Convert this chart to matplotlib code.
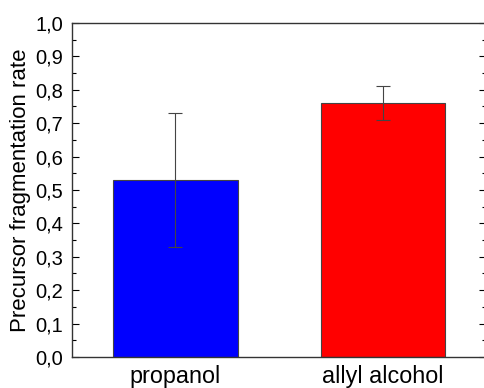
import matplotlib
matplotlib.use("Agg")
import matplotlib.pyplot as plt
from matplotlib.ticker import FuncFormatter, MultipleLocator

plt.rcParams['font.family'] = ['Liberation Sans', 'DejaVu Sans']

# data
labels = ["propanol", "allyl alcohol"]
rates = [0.53, 0.76]
errors = [0.20, 0.05]
colors = ["#0000ff", "#ff0000"]

fig = plt.figure(figsize=(4.85, 3.88), dpi=100)
ax = fig.add_axes([0.148, 0.080, 0.855, 0.861])

pos = [1, 2]
ax.bar(pos, rates, width=0.6, color=colors, edgecolor="#444444", linewidth=0.8,
       yerr=errors, error_kw=dict(ecolor="#444444", elinewidth=0.8, capsize=5, capthick=0.8))

ax.set_xlim(0.5, 2.5)
ax.set_ylim(0, 1.0)
ax.set_xticks(pos)
ax.set_xticklabels(labels)
ax.yaxis.set_major_locator(MultipleLocator(0.1))
ax.yaxis.set_minor_locator(MultipleLocator(0.05))
ax.yaxis.set_major_formatter(FuncFormatter(lambda v, p: f"{v:.1f}".replace(".", ",")))

ax.tick_params(axis="y", which="both", direction="in", left=True, right=True, labelsize=14.5, pad=6)
ax.tick_params(axis="y", which="major", length=5, width=0.8)
ax.tick_params(axis="y", which="minor", length=3, width=0.8)
ax.tick_params(axis="x", length=0, labelsize=16.8, pad=6)

for s in ax.spines.values():
    s.set_linewidth(1.0)
    s.set_color("#333333")

ax.set_ylabel("Precursor fragmentation rate", fontsize=16, labelpad=3)

fig.savefig("out.png", dpi=100)
